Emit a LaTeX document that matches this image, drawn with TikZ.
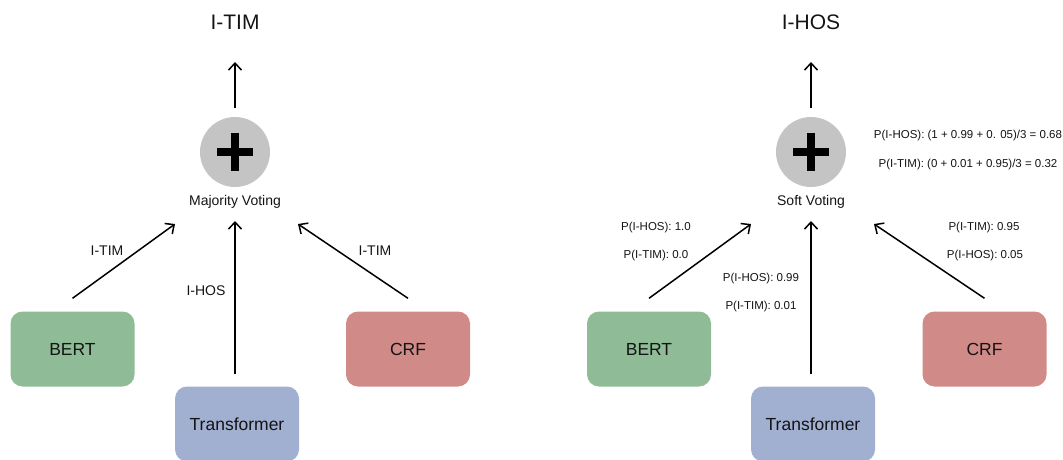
\documentclass[tikz,border=0pt]{standalone}
\usepackage{fontspec}
\setmainfont{Liberation Sans}
\usetikzlibrary{arrows.meta}
\definecolor{bertc}{HTML}{8FBC97}
\definecolor{transc}{HTML}{A1AFD1}
\definecolor{crfc}{HTML}{D08A88}
\definecolor{circc}{HTML}{C4C4C4}
\definecolor{txt}{HTML}{141414}
\tikzset{
  model/.style={rounded corners=12pt, minimum width=124pt, minimum height=75pt, inner sep=0pt, text=txt, font=\fontsize{17.5}{20}\selectfont},
  votec/.style={circle, fill=circc, minimum size=70pt, inner sep=0pt},
  title/.style={inner sep=0pt, text=txt, font=\fontsize{21}{24}\selectfont},
  vlabel/.style={inner sep=0pt, text=txt, font=\fontsize{14}{16}\selectfont},
  elabel/.style={inner sep=0pt, text=txt, font=\fontsize{14}{16}\selectfont},
  plabel/.style={inner sep=0pt, text=txt, font=\fontsize{11.5}{13}\selectfont},
  arr/.style={line width=1.5pt, -{Straight Barb[length=7pt,width=13pt,line width=1.5pt]}},
  plus/.style={line width=8pt, black}
}
\begin{document}
\begin{tikzpicture}[x=1pt,y=-1pt]
\useasboundingbox (0,0) rectangle (1063,460);
% ---------- left panel ----------
\node[title] (tl) at (235,22) {I-TIM};
\node[votec] (cl) at (235,152) {};
\draw[plus] ([xshift=-18pt]cl.center) -- ([xshift=18pt]cl.center);
\draw[plus] ([yshift=-19pt]cl.center) -- ([yshift=19pt]cl.center);
\node[vlabel] (ml) at (235,202) {Majority Voting};
\node[model, fill=bertc] (b1) at (72.5,349) {BERT};
\node[model, fill=transc] (t1) at (237,424) {Transformer};
\node[model, fill=crfc] (c1) at (408,349) {CRF};
\coordinate (tla) at (235,62);
\coordinate (b1e) at (175,224);
\coordinate (t1e) at (235,221);
\coordinate (c1e) at (298,224);
\draw[arr] ([yshift=9pt]cl.north) -- (tla);
\draw[arr] ([yshift=13pt]b1.north) -- (b1e);
\draw[arr] ([xshift=-2pt,yshift=12pt]t1.north) -- (t1e);
\draw[arr] ([yshift=13pt]c1.north) -- (c1e);
\node[elabel] (l1) at (107,251) {I-TIM};
\node[elabel] (l2) at (206,291) {I-HOS};
\node[elabel] (l3) at (375,251) {I-TIM};
% ---------- right panel ----------
\node[title] (tr) at (811,22) {I-HOS};
\node[votec] (cr) at (811,152) {};
\draw[plus] ([xshift=-18pt]cr.center) -- ([xshift=18pt]cr.center);
\draw[plus] ([yshift=-19pt]cr.center) -- ([yshift=19pt]cr.center);
\node[vlabel] (sl) at (811,202) {Soft Voting};
\node[model, fill=bertc] (b2) at (649,349) {BERT};
\node[model, fill=transc] (t2) at (813,424) {Transformer};
\node[model, fill=crfc] (c2) at (984.5,349) {CRF};
\coordinate (tra) at (811,62);
\coordinate (b2e) at (751,224);
\coordinate (t2e) at (811,221);
\coordinate (c2e) at (874,224);
\draw[arr] ([yshift=9pt]cr.north) -- (tra);
\draw[arr] ([yshift=13pt]b2.north) -- (b2e);
\draw[arr] ([xshift=-2pt,yshift=12pt]t2.north) -- (t2e);
\draw[arr] ([yshift=13pt]c2.north) -- (c2e);
\node[plabel] (f1) at (968,136) {P(I-HOS): (1 + 0.99 + 0. 05)/3 = 0.68};
\node[plabel] (f2) at (968,165) {P(I-TIM): (0 + 0.01 + 0.95)/3 = 0.32};
\node[plabel] (p1) at (656,228) {P(I-HOS): 1.0};
\node[plabel] (p2) at (656,256) {P(I-TIM): 0.0};
\node[plabel] (p3) at (761,279) {P(I-HOS): 0.99};
\node[plabel] (p4) at (761,307) {P(I-TIM): 0.01};
\node[plabel] (p5) at (984,228) {P(I-TIM): 0.95};
\node[plabel] (p6) at (985,256) {P(I-HOS): 0.05};
\end{tikzpicture}
\end{document}
